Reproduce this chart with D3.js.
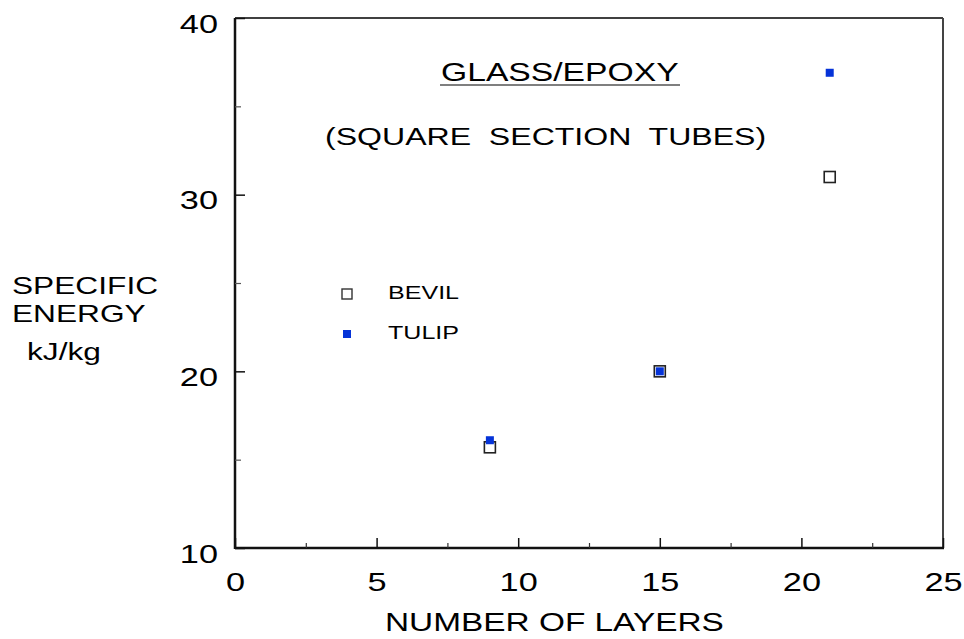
<!DOCTYPE html>
<html>
<head>
<meta charset="utf-8">
<script src="https://cdn.jsdelivr.net/npm/d3@7"></script>
<style>
  body { margin: 0; background: #fff; }
  text { font-family: "Liberation Sans", Arial, sans-serif; fill: #000; }
</style>
</head>
<body>
<div id="chart"></div>
<script>
// data
const layers = [9, 15, 21];
const bevil = [15.7, 20, 31];
const tulip = [16.1, 20, 36.9];
const xTicks = [0, 5, 10, 15, 20, 25];
const xMinor = [2.5, 7.5, 12.5, 17.5, 22.5];
const yTicks = [10, 20, 30, 40];
const yMinor = [15, 25, 35];

const width = 964, height = 639;
const margin = { top: 18, right: 21, bottom: 91, left: 235 };
const sx = 1.32; // the original type is stretched horizontally

const svg = d3.select('#chart').append('svg').attr('width', width).attr('height', height);

const x = d3.scaleLinear().domain([0, 25]).range([margin.left, width - margin.right]);
const y = d3.scaleLinear().domain([10, 40]).range([height - margin.bottom, margin.top]);

const label = function (g, str, px, py, size, anchor) {
    return g.append('text')
        .attr('transform', 'translate(' + px + ',' + py + ') scale(' + sx + ',1)')
        .attr('text-anchor', anchor || 'start')
        .style('font-size', size + 'px')
        .style('white-space', 'pre')
        .text(str);
};

// frame
const x0 = x(0), x1 = x(25), y0 = y(10), y1 = y(40);
svg.append('line').attr('x1', x0).attr('x2', x1).attr('y1', y1).attr('y2', y1).attr('stroke', '#000').attr('stroke-width', 1.5);
svg.append('line').attr('x1', x1).attr('x2', x1).attr('y1', y1).attr('y2', y0).attr('stroke', '#444').attr('stroke-width', 2);
svg.append('line').attr('x1', x0).attr('x2', x0).attr('y1', y1).attr('y2', y0 + 1).attr('stroke', '#111').attr('stroke-width', 2.5);
svg.append('line').attr('x1', x0).attr('x2', x1 + 1).attr('y1', y0).attr('y2', y0).attr('stroke', '#111').attr('stroke-width', 2.5);

// bottom axis
const gx = svg.append('g').attr('transform', 'translate(0,' + y0 + ')')
    .call(d3.axisBottom(x).tickValues(xTicks).tickSizeInner(-10).tickSizeOuter(0).tickFormat(''));
gx.select('.domain').remove();
gx.selectAll('.tick line').attr('stroke', '#111').attr('stroke-width', 1.5);
gx.selectAll('.tick').each(function (d) {
    label(d3.select(this), String(d), 0, 43, 26, 'middle');
});
const gxm = svg.append('g').attr('transform', 'translate(0,' + y0 + ')')
    .call(d3.axisBottom(x).tickValues(xMinor).tickSizeInner(-5).tickSizeOuter(0).tickFormat(''));
gxm.select('.domain').remove();
gxm.selectAll('.tick line').attr('stroke', '#333').attr('stroke-width', 1.2);

// left axis
const gy = svg.append('g').attr('transform', 'translate(' + x0 + ',0)')
    .call(d3.axisLeft(y).tickValues(yTicks).tickSizeInner(-10).tickSizeOuter(0).tickFormat(''));
gy.select('.domain').remove();
gy.selectAll('.tick line').attr('stroke', '#111').attr('stroke-width', 1.5);
gy.selectAll('.tick').each(function (d) {
    label(d3.select(this), String(d), -17, 14, 26, 'end');
});
const gym = svg.append('g').attr('transform', 'translate(' + x0 + ',0)')
    .call(d3.axisLeft(y).tickValues(yMinor).tickSizeInner(-6).tickSizeOuter(0).tickFormat(''));
gym.select('.domain').remove();
gym.selectAll('.tick line').attr('stroke', '#555').attr('stroke-width', 1.2);

// axis titles
label(svg, 'NUMBER OF LAYERS', 385, 631, 25.3);
label(svg, 'SPECIFIC', 12, 294, 24);
label(svg, 'ENERGY', 12, 322, 24);
label(svg, 'kJ/kg', 27, 360, 24);

// chart titles
label(svg, 'GLASS/EPOXY', 441, 81, 25.5);
svg.append('line').attr('x1', 440).attr('x2', 680).attr('y1', 85).attr('y2', 85).attr('stroke', '#555').attr('stroke-width', 1.5);
label(svg, '(SQUARE  SECTION  TUBES)', 325, 145, 24.3);

// points
const pts = svg.append('g');
pts.selectAll('rect.bevil').data(layers).enter().append('rect')
    .attr('class', 'bevil')
    .attr('x', (d) => x(d) - 5.5)
    .attr('y', (d, i) => y(bevil[i]) - 5.5)
    .attr('width', 11).attr('height', 11)
    .attr('fill', '#fff').attr('stroke', '#222').attr('stroke-width', 1.6);
pts.selectAll('rect.tulip').data(layers).enter().append('rect')
    .attr('class', 'tulip')
    .attr('x', (d) => x(d) - 4)
    .attr('y', (d, i) => y(tulip[i]) - 4)
    .attr('width', 8).attr('height', 8)
    .attr('fill', '#0533d8');

// legend
const legend = svg.append('g');
legend.append('rect').attr('x', 342).attr('y', 289).attr('width', 10).attr('height', 10)
    .attr('fill', '#fff').attr('stroke', '#333').attr('stroke-width', 1.4);
label(legend, 'BEVIL', 388, 299, 19);
legend.append('rect').attr('x', 343).attr('y', 330).attr('width', 8).attr('height', 8)
    .attr('fill', '#0533d8');
label(legend, 'TULIP', 388, 339, 19);
</script>
</body>
</html>
